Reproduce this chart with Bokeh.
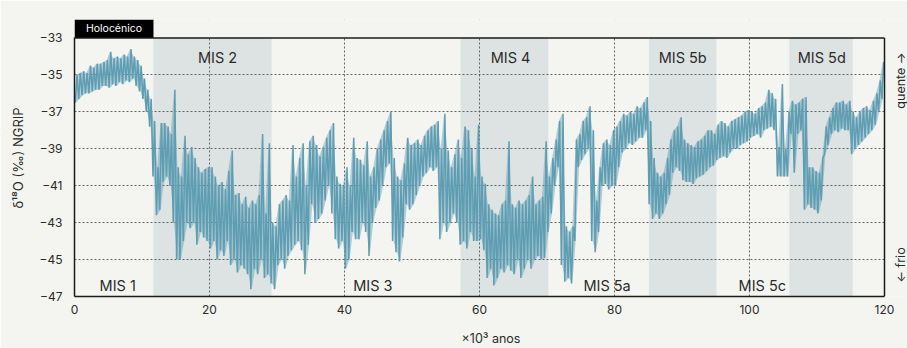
import numpy as np
from math import pi
from bokeh.plotting import figure
from bokeh.models import FixedTicker, Range1d
from bokeh.embed import file_html
from bokeh.resources import INLINE
from bokeh.core.properties import value

# ---------------- data ----------------
# 0.5-kyr bins; for each bin the highest and lowest d18O value drawn
bin_start = np.arange(0.0, 120.0, 0.5)   # ka

d18o_high = [
    -35.0, -34.9, -34.8, -34.9, -34.5, -34.6, -34.4, -34.4, -34.3, -34.2, -33.75, -34.1, -34.0, -34.1, -33.9, -34.0, -33.6, -34.0, -34.2, -34.5,
    -35.2, -35.8, -36.3, -37.5, -40.0, -37.6, -37.6, -37.8, -38.2, -35.8, -40.0, -40.5, -38.3, -39.3, -38.9, -39.5, -40.0, -40.3, -40.1, -40.0,
    -40.0, -40.5, -41.0, -40.8, -41.2, -40.2, -39.1, -41.5, -41.4, -42.0, -41.6, -42.2, -41.8, -42.0, -41.5, -38.2, -42.5, -38.7, -43.0, -43.2,
    -42.0, -41.8, -41.5, -41.8, -38.8, -40.5, -39.5, -38.7, -41.0, -38.6, -38.3, -38.8, -39.4, -38.9, -38.4, -38.0, -37.6, -40.5, -40.9, -41.0,
    -40.0, -41.0, -38.4, -39.5, -39.6, -39.9, -38.6, -40.5, -40.0, -39.0, -38.5, -38.0, -37.5, -37.0, -39.5, -40.5, -40.7, -39.8, -38.4, -38.8,
    -38.7, -38.5, -38.8, -38.3, -38.0, -37.8, -37.7, -37.5, -39.0, -37.1, -39.1, -40.0, -39.3, -38.5, -39.5, -37.8, -38.0, -39.0, -40.5, -37.7,
    -40.5, -40.9, -42.0, -42.3, -42.5, -42.6, -42.0, -41.8, -38.6, -42.0, -42.2, -41.8, -42.0, -41.8, -41.5, -40.5, -42.0, -41.8, -41.6, -38.6,
    -40.5, -39.5, -38.5, -37.5, -37.1, -43.2, -43.5, -43.2, -38.5, -38.2, -37.5, -37.3, -36.7, -38.0, -41.8, -40.0, -38.7, -38.5, -38.8, -38.0,
    -37.8, -37.5, -37.1, -37.2, -37.0, -37.1, -36.7, -36.8, -36.5, -36.2, -37.5, -39.5, -40.3, -40.5, -40.3, -39.5, -38.5, -38.0, -37.8, -37.3,
    -38.5, -38.7, -38.8, -38.9, -38.6, -38.5, -38.3, -38.0, -38.0, -38.2, -37.7, -37.5, -37.6, -37.8, -37.5, -37.4, -37.3, -37.2, -37.0, -36.9,
    -37.0, -37.1, -36.8, -36.7, -36.5, -35.8, -36.0, -36.3, -38.9, -35.5, -39.0, -37.0, -36.4, -36.6, -36.5, -36.3, -36.2, -40.0, -40.0, -40.2,
    -40.3, -39.5, -37.8, -37.3, -36.8, -36.5, -36.5, -36.4, -36.6, -36.4, -37.0, -37.3, -37.0, -36.8, -36.7, -36.9, -36.4, -36.0, -35.3, -34.3,
]

d18o_low = [
    -36.5, -36.3, -36.1, -36.0, -36.0, -35.9, -35.8, -35.8, -35.6, -35.6, -35.7, -35.5, -35.6, -35.4, -35.5, -35.3, -35.4, -35.2, -35.6, -35.9,
    -36.3, -37.0, -37.8, -40.5, -42.6, -42.3, -40.8, -40.5, -41.0, -43.0, -45.0, -45.0, -44.0, -43.0, -43.3, -43.0, -44.2, -43.5, -43.8, -44.0,
    -44.4, -44.0, -45.0, -44.5, -44.8, -44.0, -45.3, -45.0, -45.7, -45.3, -45.5, -45.8, -46.6, -45.5, -45.8, -45.0, -46.0, -45.8, -46.3, -46.6,
    -45.3, -45.0, -45.5, -44.8, -44.5, -44.2, -44.0, -44.5, -45.8, -44.2, -42.0, -43.0, -42.8, -42.5, -41.8, -41.0, -42.5, -43.9, -44.4, -44.0,
    -45.5, -45.0, -43.5, -43.9, -43.9, -43.0, -43.5, -44.8, -43.0, -42.2, -41.8, -41.0, -40.0, -39.8, -44.0, -44.6, -45.1, -43.8, -42.0, -42.3,
    -42.0, -41.5, -41.0, -40.5, -40.3, -40.0, -40.2, -40.0, -43.9, -43.0, -43.5, -43.0, -42.5, -43.0, -44.2, -44.0, -44.4, -43.5, -44.0, -44.0,
    -43.9, -44.5, -46.0, -45.5, -46.4, -46.0, -45.5, -45.7, -45.3, -45.6, -45.8, -45.0, -46.0, -45.5, -45.0, -45.5, -45.0, -44.8, -45.0, -44.9,
    -43.5, -42.5, -41.0, -40.0, -45.3, -46.2, -46.0, -46.3, -44.0, -40.0, -39.6, -39.3, -39.0, -44.0, -44.6, -43.5, -41.0, -40.9, -41.2, -41.0,
    -41.0, -40.0, -39.2, -39.0, -38.7, -38.8, -38.6, -38.4, -38.4, -38.0, -42.0, -42.8, -42.5, -42.8, -42.5, -42.0, -41.5, -40.3, -40.0, -40.2,
    -40.7, -40.8, -40.8, -40.9, -40.6, -40.5, -40.4, -40.2, -40.0, -39.9, -39.6, -39.5, -39.4, -39.5, -39.2, -39.0, -39.0, -38.8, -38.7, -38.6,
    -38.4, -38.3, -38.2, -38.4, -38.0, -37.9, -37.8, -38.0, -40.5, -40.5, -40.5, -40.5, -38.2, -40.3, -38.2, -38.0, -42.3, -42.0, -42.2, -42.3,
    -42.5, -41.8, -39.3, -38.8, -38.2, -38.0, -38.1, -37.9, -38.0, -38.0, -39.3, -39.0, -38.8, -38.6, -38.4, -38.2, -38.0, -37.7, -37.0, -36.3,
]

# marine isotope stages (shaded = glacial / stadial ones)
band_start = [11.7, 57.2, 85.1, 105.9]
band_end = [29.2, 70.2, 95.1, 115.3]

mis_labels = ["MIS 1", "MIS 2", "MIS 3", "MIS 4", "MIS 5a", "MIS 5b", "MIS 5c", "MIS 5d"]
mis_x = [6.4, 21.2, 44.2, 64.6, 78.9, 90.1, 101.9, 110.7]
mis_y = [-46.4, -34.05, -46.4, -34.05, -46.4, -34.05, -46.4, -34.05]

holocene_end = 11.7
x_ticks = [0, 20, 40, 60, 80, 100, 120]
y_ticks = [-33, -35, -37, -39, -41, -43, -45, -47]

side_labels = ["quente →", "← frio"]
side_y = [-35.3, -45.3]

# ---------------- style ----------------
BG = "#f4f5f1"
BAND = "#dde3e2"
LINE = "#5f9db3"
TXT = "#2b2b2b"
EDGE = "#1a1a1a"
FONT = "Inter"

W, H = 907, 348
LEFT, TOP, BOTTOM = 74, 19, 49
PX_PER_KYR = 6.75

x0, x1 = x_ticks[0], x_ticks[-1]
y_top, y_bot = y_ticks[0], y_ticks[-1]
x_end = (W - LEFT) / PX_PER_KYR          # frame runs to the right edge
y_end = y_top + 1.0                      # room for the Holocene box

p = figure(width=W, height=H,
           x_range=Range1d(x0, x_end), y_range=Range1d(y_bot, y_end),
           output_backend="svg", toolbar_location=None,
           min_border_left=LEFT, min_border_right=0,
           min_border_top=TOP, min_border_bottom=BOTTOM,
           background_fill_color=BG, border_fill_color=BG,
           outline_line_color=None)

# shaded MIS bands (below grid)
p.quad(left=band_start, right=band_end, bottom=y_bot, top=y_top,
       fill_color=BAND, line_color=None, level="image")

# data: light envelope + zig-zag between low and high of each bin
centres = bin_start + 0.25
p.varea(x=centres, y1=d18o_low, y2=d18o_high, fill_color=LINE, fill_alpha=0.45)
xs = np.empty(2 * len(bin_start))
ys = np.empty(2 * len(bin_start))
xs[0::2] = bin_start + 0.125
xs[1::2] = bin_start + 0.375
ys[0::2] = np.array(d18o_low)
ys[1::2] = np.array(d18o_high)
p.line(xs, ys, line_color=LINE, line_width=1.5)

# cover grid lines outside the chart box
p.quad(left=[holocene_end], right=[x_end], bottom=[y_top], top=[y_end],
       fill_color=BG, line_color=None)
p.quad(left=[x1], right=[x_end], bottom=[y_bot], top=[y_top],
       fill_color=BG, line_color=None)

# Holocene box
p.quad(left=[x0], right=[holocene_end], bottom=[y_top], top=[y_end],
       fill_color="black", line_color=None)
p.text(x=[holocene_end / 2], y=[y_top + 0.5], text=["Holocénico"],
       text_color="white", text_font=value(FONT), text_font_size="10.5px",
       text_align="center", text_baseline="middle")

# top and right border of the chart box
p.segment(x0=[x0, x1], y0=[y_top, y_bot], x1=[x1, x1], y1=[y_top, y_top],
          line_color=EDGE, line_width=1.5)

# MIS labels
p.text(x=mis_x, y=mis_y, text=mis_labels, text_color=TXT,
       text_font=value(FONT), text_font_size="14.5px",
       text_align="center", text_baseline="middle")

# warm / cold notes at the right
p.text(x=[x1 + 2.4] * 2, y=side_y, text=side_labels, angle=pi / 2,
       text_color=TXT, text_font=value(FONT), text_font_size="12.5px",
       text_align="center", text_baseline="middle")

# axes
for ax in (p.xaxis[0], p.yaxis[0]):
    ax.major_tick_out = 0
    ax.major_tick_in = 0
    ax.minor_tick_out = 0
    ax.minor_tick_in = 0
    ax.axis_line_color = EDGE
    ax.axis_line_width = 1.5
    ax.major_label_text_font = FONT
    ax.major_label_text_font_size = "12px"
    ax.major_label_text_color = TXT
    ax.axis_label_text_font = FONT
    ax.axis_label_text_font_style = "normal"
    ax.axis_label_text_color = TXT

p.xaxis.ticker = FixedTicker(ticks=x_ticks)
p.xaxis.bounds = (x0, x1)
p.xaxis.major_label_standoff = 8
p.xaxis.axis_label = "×10³ anos"
p.xaxis.axis_label_text_font_size = "12.5px"
p.xaxis.axis_label_standoff = 14

p.yaxis.ticker = FixedTicker(ticks=y_ticks)
p.yaxis.bounds = (y_bot, y_top)
p.yaxis.major_label_standoff = 12
p.yaxis.axis_label = "δ¹⁸O (‰) NGRIP"
p.yaxis.axis_label_text_font_size = "13px"
p.yaxis.axis_label_standoff = 10

p.xgrid.ticker = FixedTicker(ticks=x_ticks)
p.ygrid.ticker = FixedTicker(ticks=y_ticks)
p.grid.grid_line_color = "#555555"
p.grid.grid_line_dash = "2 2"
p.grid.grid_line_width = 1
p.grid.grid_line_alpha = 0.9

open("out.html", "w").write(file_html(p, INLINE))
